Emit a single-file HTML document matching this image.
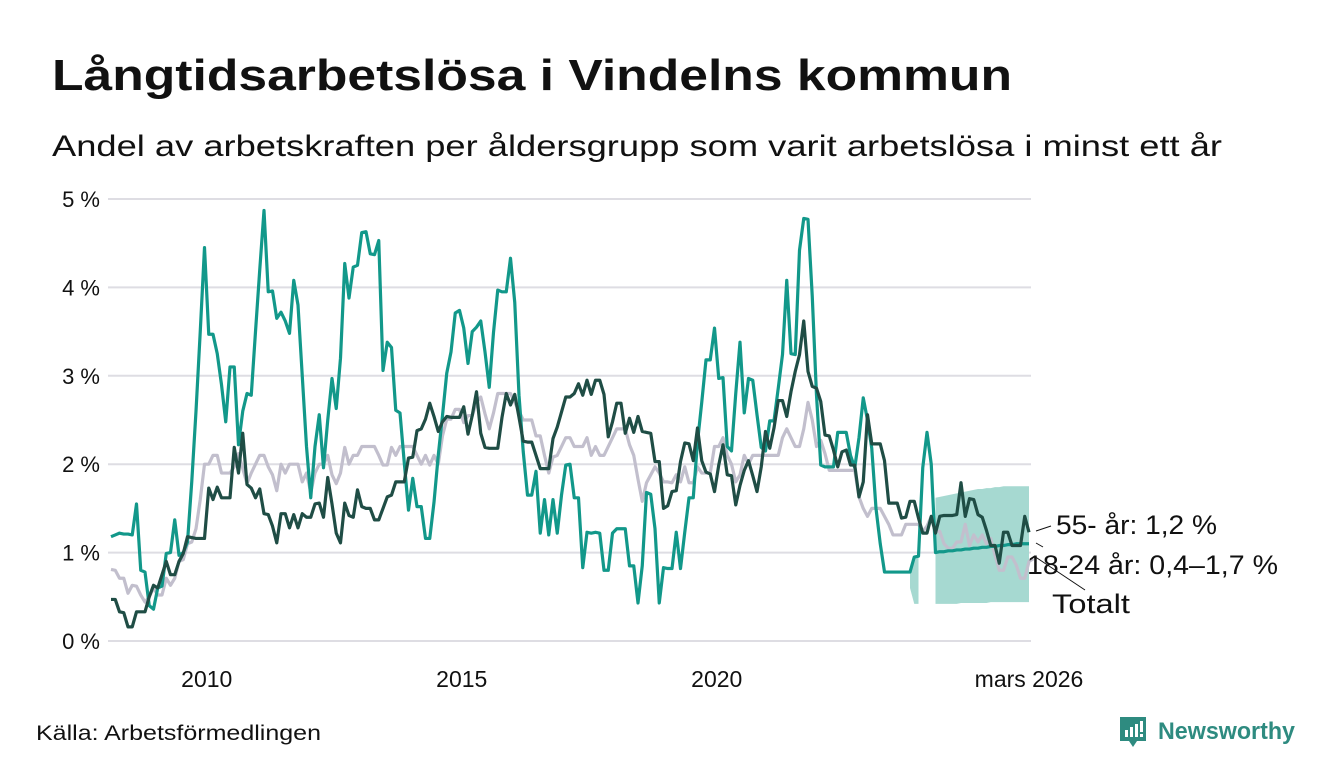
<!DOCTYPE html>
<html><head><meta charset="utf-8"><style>
html,body{margin:0;padding:0;background:#fff;}
svg{display:block;font-family:"Liberation Sans","DejaVu Sans",sans-serif;}
</style></head><body>
<svg id="chart" width="1340" height="780" viewBox="0 0 1340 780">
<text x="52" y="90" font-size="44" font-weight="bold" fill="#111" textLength="960" lengthAdjust="spacingAndGlyphs">Långtidsarbetslösa i Vindelns kommun</text>
<text x="52" y="156" font-size="30" fill="#111" textLength="1170" lengthAdjust="spacingAndGlyphs">Andel av arbetskraften per åldersgrupp som varit arbetslösa i minst ett år</text>
<g id="grid"></g>
<g id="band"></g>
<g id="lines"></g>
<g id="ann">
<line x1="1036" y1="531" x2="1051" y2="526" stroke="#111" stroke-width="1"/>
<line x1="1036" y1="543" x2="1043" y2="547" stroke="#111" stroke-width="1"/>
<line x1="1034" y1="556" x2="1085" y2="590" stroke="#111" stroke-width="1"/>
<text x="1056" y="534" font-size="27" fill="#111" textLength="161" lengthAdjust="spacingAndGlyphs">55- år: 1,2 %</text>
<text x="1027" y="574" font-size="27" fill="#111" textLength="251" lengthAdjust="spacingAndGlyphs">18-24 år: 0,4–1,7 %</text>
<text x="1052" y="613" font-size="27" fill="#111" textLength="78" lengthAdjust="spacingAndGlyphs">Totalt</text>
</g>
<text x="36" y="740" font-size="21" fill="#111" textLength="285" lengthAdjust="spacingAndGlyphs">Källa: Arbetsförmedlingen</text>
<g>
<path d="M1120 717 h26 v24 h-9 l-4 6 l-4 -6 h-9 z" fill="#2e8b80"/>
<rect x="1125" y="730" width="3" height="7" fill="#fff"/><rect x="1130" y="727" width="3" height="10" fill="#fff"/><rect x="1135" y="724" width="3" height="13" fill="#fff"/><rect x="1140" y="721" width="3" height="11" fill="#fff"/><rect x="1140" y="734" width="3" height="3" fill="#fff"/>
<text x="1158" y="739" font-size="24" font-weight="bold" fill="#2e8b80" textLength="137" lengthAdjust="spacingAndGlyphs">Newsworthy</text>
</g>
</svg>
<script>
const youth = [1.18,1.2,1.22,1.21,1.21,1.2,1.55,0.8,0.78,0.4,0.36,0.6,0.62,0.99,1.0,1.37,0.97,1.0,1.12,1.8,2.6,3.5,4.45,3.47,3.47,3.25,2.9,2.48,3.1,3.1,2.22,2.6,2.8,2.78,3.5,4.2,4.87,3.95,3.96,3.65,3.72,3.62,3.48,4.08,3.8,3.0,2.2,1.62,2.2,2.56,1.96,2.5,2.97,2.63,3.2,4.27,3.88,4.23,4.25,4.62,4.63,4.38,4.37,4.53,3.06,3.38,3.32,2.61,2.58,2.02,1.48,1.84,1.52,1.52,1.16,1.16,1.57,2.1,2.55,3.03,3.27,3.71,3.74,3.54,3.14,3.5,3.55,3.62,3.27,2.87,3.49,3.97,3.95,3.95,4.33,3.83,2.78,2.14,1.65,1.65,1.92,1.22,1.6,1.2,1.6,1.22,1.65,1.99,2.0,1.62,1.62,0.83,1.23,1.22,1.23,1.22,0.8,0.8,1.22,1.27,1.27,1.27,0.85,0.85,0.43,0.85,1.68,1.66,1.27,0.43,0.83,0.82,0.82,1.23,0.82,1.23,1.62,1.62,2.25,2.7,3.18,3.18,3.54,2.97,2.98,2.2,2.15,2.8,3.38,2.58,2.97,2.95,2.56,2.19,2.15,2.49,2.49,2.86,3.24,4.08,3.25,3.24,4.42,4.78,4.77,3.9,2.78,1.99,1.97,1.97,1.97,2.36,2.36,2.36,2.1,1.96,2.3,2.75,2.5,2.18,1.5,1.1,0.78,0.78,0.78,0.78,0.78,0.78,0.78,0.95,0.96,1.96,2.36,2.0,1.0,1.01,1.01,1.02,1.02,1.03,1.03,1.04,1.04,1.05,1.05,1.06,1.06,1.07,1.07,1.08,1.08,1.09,1.09,1.1,1.1,1.1,1.1];
const senior = [0.47,0.47,0.33,0.32,0.16,0.16,0.33,0.33,0.33,0.5,0.63,0.6,0.75,0.9,0.75,0.75,0.9,0.99,1.18,1.17,1.16,1.16,1.16,1.73,1.6,1.74,1.62,1.62,1.62,2.19,1.9,2.35,1.77,1.73,1.62,1.72,1.44,1.43,1.3,1.11,1.44,1.44,1.28,1.43,1.28,1.44,1.4,1.4,1.55,1.56,1.4,1.85,1.55,1.22,1.11,1.56,1.42,1.4,1.71,1.52,1.5,1.5,1.37,1.37,1.5,1.63,1.65,1.8,1.8,1.8,2.07,2.08,2.38,2.4,2.51,2.69,2.54,2.37,2.48,2.54,2.53,2.53,2.53,2.65,2.34,2.55,2.82,2.35,2.19,2.18,2.18,2.18,2.53,2.8,2.67,2.79,2.53,2.26,2.25,2.25,2.1,1.95,1.95,1.95,2.29,2.42,2.59,2.76,2.76,2.8,2.91,2.78,2.95,2.79,2.95,2.95,2.79,2.31,2.48,2.69,2.69,2.35,2.52,2.36,2.54,2.37,2.36,2.35,2.03,2.03,1.5,1.53,1.69,1.7,2.03,2.24,2.23,2.04,2.41,2.04,1.91,1.89,1.69,1.99,2.22,1.88,1.87,1.54,1.76,1.93,2.04,1.87,1.69,1.97,2.37,2.18,2.41,2.72,2.72,2.54,2.82,3.05,3.24,3.62,3.05,2.88,2.86,2.71,2.33,2.32,2.16,1.97,2.14,2.16,1.99,1.99,1.63,1.8,2.56,2.23,2.23,2.23,2.04,1.56,1.56,1.56,1.39,1.4,1.58,1.58,1.39,1.22,1.22,1.41,1.22,1.41,1.42,1.42,1.42,1.43,1.79,1.41,1.61,1.6,1.43,1.4,1.25,1.08,1.08,0.88,1.23,1.23,1.08,1.08,1.08,1.41,1.23];
const total = [0.81,0.8,0.71,0.71,0.54,0.63,0.62,0.52,0.44,0.5,0.6,0.52,0.52,0.71,0.63,0.71,0.9,0.92,1.1,1.12,1.27,1.6,2.0,2.0,2.1,2.1,1.9,1.9,1.9,1.97,2.12,1.95,1.78,1.9,2.0,2.1,2.1,1.97,1.88,1.7,2.0,1.9,2.0,2.0,2.0,1.8,1.9,1.68,1.9,2.0,2.0,2.1,1.88,1.78,1.9,2.19,2.0,2.1,2.1,2.2,2.2,2.2,2.2,2.1,1.99,1.99,2.19,2.1,2.2,2.2,2.2,2.2,2.1,2.0,2.1,1.99,2.1,2.0,2.32,2.51,2.51,2.62,2.62,2.47,2.55,2.55,2.7,2.76,2.57,2.4,2.58,2.8,2.8,2.8,2.8,2.7,2.6,2.5,2.5,2.5,2.32,2.32,2.1,1.9,2.08,2.1,2.2,2.3,2.3,2.2,2.2,2.2,2.3,2.1,2.2,2.1,2.1,2.2,2.3,2.4,2.4,2.4,2.22,2.1,1.83,1.58,1.79,1.88,1.97,1.9,1.8,1.8,1.79,1.88,1.8,1.97,1.79,1.79,1.97,1.9,1.9,1.9,2.2,2.2,2.3,2.1,2.0,1.8,1.88,2.1,2.0,2.1,2.1,2.1,2.1,2.1,2.1,2.1,2.3,2.4,2.3,2.2,2.2,2.4,2.7,2.5,2.2,2.27,2.12,1.93,1.93,1.93,1.93,1.93,1.93,1.93,1.63,1.5,1.41,1.5,1.5,1.5,1.41,1.32,1.2,1.2,1.2,1.32,1.32,1.32,1.32,1.24,1.3,1.41,1.24,1.24,1.1,1.05,1.05,1.12,1.12,1.32,1.08,1.2,1.12,1.2,1.1,1.16,0.97,0.8,0.8,0.95,0.95,0.86,0.71,0.71,0.9,0.93];
const bandStart = 188;
const bandLow = [0.6,0.42,0.42,null,null,null,0.42,0.42,0.42,0.42,0.42,0.42,0.43,0.43,0.43,0.43,0.43,0.43,0.43,0.44,0.44,0.44,0.44,0.44,0.44,0.44,0.44,0.44,0.44];
const bandHigh = [0.78,0.95,0.96,null,null,null,1.62,1.63,1.64,1.65,1.66,1.67,1.68,1.69,1.7,1.71,1.72,1.72,1.73,1.73,1.74,1.74,1.75,1.75,1.75,1.75,1.75,1.75,1.75];
const yTicks = [0,1,2,3,4,5];
const xTickIdx = [23,83,143,216];
const xTickLabels = ["2010","2015","2020","mars 2026"];

const NS="http://www.w3.org/2000/svg";
const X = i => 111 + 4.25*i;
const Y = v => 641 - 88.4*v;
const grid=document.getElementById('grid');
yTicks.forEach(t=>{
  const l=document.createElementNS(NS,'line');
  l.setAttribute('x1',108);l.setAttribute('x2',1031);
  l.setAttribute('y1',Y(t));l.setAttribute('y2',Y(t));
  l.setAttribute('stroke','#dedde3');l.setAttribute('stroke-width',2);
  
  
  grid.appendChild(l);
  const tx=document.createElementNS(NS,'text');
  tx.setAttribute('x',100);tx.setAttribute('y',Y(t)+8);
  tx.setAttribute('text-anchor','end');tx.setAttribute('font-size','22');tx.setAttribute('fill','#111');
  tx.textContent=t+' %';
  
  
  grid.appendChild(tx);
});
xTickIdx.forEach((idx,k)=>{
  const tx=document.createElementNS(NS,'text');
  tx.setAttribute('x',X(idx)-(k==3?0:2));tx.setAttribute('y',687);
  tx.setAttribute('text-anchor','middle');tx.setAttribute('font-size','23');tx.setAttribute('fill','#111');
  tx.textContent=xTickLabels[k];
  
  
  grid.appendChild(tx);
});
const band=document.getElementById('band');
let segs=[],cur=[];
bandLow.forEach((v,k)=>{ if(v==null){ if(cur.length)segs.push(cur); cur=[]; } else cur.push(k); });
if(cur.length)segs.push(cur);
segs.forEach(s=>{
  let d='';
  s.forEach((k,j)=>{ d+=(j?'L':'M')+X(bandStart+k)+' '+Y(bandHigh[k]); });
  for(let j=s.length-1;j>=0;j--){ const k=s[j]; d+='L'+X(bandStart+k)+' '+Y(bandLow[k]); }
  const p=document.createElementNS(NS,'path');
  p.setAttribute('d',d+'Z');p.setAttribute('fill','#a6d9d1');
  
  
  band.appendChild(p);
});
const lines=document.getElementById('lines');
function draw(arr,color,name){
  const p=document.createElementNS(NS,'path');
  p.setAttribute('d',arr.map((v,i)=>(i?'L':'M')+X(i).toFixed(2)+' '+Y(v).toFixed(2)).join(''));
  p.setAttribute('fill','none');p.setAttribute('stroke',color);p.setAttribute('stroke-width',3.2);
  p.setAttribute('stroke-linejoin','round');
  
  
  lines.appendChild(p);
}
draw(total,'#c2bfcd','line-totalt');
draw(youth,'#12988a','line-18-24');
draw(senior,'#1f4d45','line-55');
</script>
</body></html>
